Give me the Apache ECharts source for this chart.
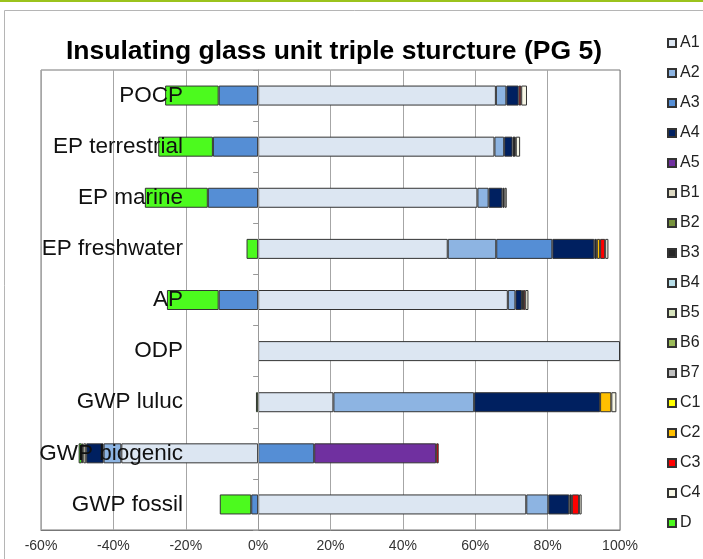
<!DOCTYPE html>
<html>
<head>
<meta charset="utf-8">
<script src="https://cdn.jsdelivr.net/npm/echarts@6/dist/echarts.min.js"></script>
<style>
    html, body { margin: 0; padding: 0; background: #fff; }
    #chart { width: 703px; height: 559px; }
</style>
</head>
<body>
<div id="chart"></div>
<script>
    // categories, bottom to top
    var categories = ['GWP fossil', 'GWP biogenic', 'GWP luluc', 'ODP', 'AP', 'EP freshwater', 'EP marine', 'EP terrestrial', 'POCP'];
    var xTicks = { min: -60, max: 100, step: 20 };

    // share per module (%), same order as categories
    var A1 = [74.1, -37.8, 20.8, 100, 69.0, 52.4, 60.6, 65.3, 65.7];
    var A2 = [6.1, -4.9, 38.9, 0, 2.1, 13.4, 3.1, 2.7, 2.9];
    var A3 = [-1.9, 15.5, 0, 0, -10.9, 15.5, -13.9, -12.5, -10.9];
    var A4 = [5.8, -4.8, 34.8, 0, 1.8, 11.6, 3.8, 2.3, 3.4];
    var A5 = [0, 33.7, 0, 0, 0, 0, 0, 0, 0];
    var B1 = [0, -0.8, 0, 0, 0, 0, 0, 0, 0];
    var B2 = [0, 0, 0, 0, 0, 0, 0, 0, 0];
    var B3 = [0.7, 0, 0, 0, 0.3, 0.7, 0.6, 0.9, 0];
    var B4 = [0, 0, 0, 0, 0, 0, 0, 0, 0];
    var B5 = [0, 0, 0, 0, 0, 0, 0, 0, 0];
    var B6 = [0, 0, 0, 0, 0, 0, 0, 0, 0];
    var B7 = [0, 0, 0, 0, 0, 0, 0, 0, 0];
    var C1 = [0, -0.4, 0, 0, 0, 0, 0, 0, 0];
    var C2 = [0, 0, 3.1, 0, 0, 0.9, 0, 0, 0];
    var C3 = [2.0, 0.7, 0, 0, 0.6, 1.4, 0, 0, 0.7];
    var C4 = [0.7, 0, 1.4, 0, 0.9, 0.9, 0.6, 1.2, 1.6];
    var D  = [-8.7, -0.9, -0.6, 0, -14.3, -3.2, -17.4, -15.1, -14.8];

    var modules = [
        ['A1', A1, '#dce6f2'], ['A2', A2, '#8db4e2'], ['A3', A3, '#558ed5'],
        ['A4', A4, '#002060'], ['A5', A5, '#7030a0'], ['B1', B1, '#ddd9c3'],
        ['B2', B2, '#77933c'], ['B3', B3, '#262626'], ['B4', B4, '#b7dee8'],
        ['B5', B5, '#d7e4bd'], ['B6', B6, '#9bbb59'], ['B7', B7, '#bfbfbf'],
        ['C1', C1, '#ffff00'], ['C2', C2, '#ffc000'], ['C3', C3, '#ff0000'],
        ['C4', C4, '#f7f7e6'], ['D', D, '#4cfa1e']
    ];

    var font = 'Liberation Sans, Arial, sans-serif';
    var myChart = echarts.init(document.getElementById('chart'));

    var series = modules.map(function (m) {
        return {
            name: m[0],
            type: 'bar',
            stack: 'total',
            barWidth: 20,
            itemStyle: { color: m[2], borderColor: '#333', borderWidth: 1 },
            // zero shares are left out so no empty outline is drawn
            data: m[1].map(function (v) { return v === 0 ? null : v; })
        };
    });

    myChart.setOption({
        animation: false,
        textStyle: { fontFamily: font },
        graphic: [
            { type: 'rect', shape: { x: 0, y: 0, width: 703, height: 2 }, style: { fill: '#9bc31c' } },
            { type: 'rect', shape: { x: 4.5, y: 10.5, width: 760, height: 600 }, style: { fill: 'none', stroke: '#b5b5b5', lineWidth: 1 } }
        ],
        title: {
            text: 'Insulating glass unit triple sturcture (PG 5)',
            left: 61,
            top: 33,
            textStyle: { fontFamily: font, fontSize: 26.5, fontWeight: 'bold', color: '#000' }
        },
        legend: {
            orient: 'vertical',
            left: 667,
            top: 34,
            padding: 0,
            icon: 'rect',
            itemWidth: 8,
            itemHeight: 8,
            itemGap: 12,
            data: modules.map(function (m) { return m[0]; }),
            textStyle: { fontFamily: font, fontSize: 16, lineHeight: 18, color: '#222', padding: [0, 0, 0, -1] }
        },
        grid: {
            left: 41,
            right: 83,
            top: 70,
            bottom: 29,
            containLabel: false,
            outerBoundsMode: 'none',
            show: true,
            borderColor: '#777',
            borderWidth: 1
        },
        xAxis: {
            type: 'value',
            min: xTicks.min,
            max: xTicks.max,
            interval: xTicks.step,
            axisLine: { show: true, lineStyle: { color: '#777' } },
            axisTick: { show: false },
            splitLine: { show: true, lineStyle: { color: '#a6a6a6', width: 1 } },
            axisLabel: { formatter: '{value}%', fontSize: 14, color: '#333', margin: 9 }
        },
        yAxis: {
            type: 'category',
            data: categories,
            z: 10,
            axisLine: { onZero: true, lineStyle: { color: '#999' } },
            axisTick: { show: true, length: 5, lineStyle: { color: '#999' } },
            // labels sit inside the plot, right-aligned a bit left of 0%
            axisLabel: { fontSize: 22.5, color: '#111', margin: -142, padding: [3, 0, 0, 0] }
        },
        series: series
    });
</script>
</body>
</html>
